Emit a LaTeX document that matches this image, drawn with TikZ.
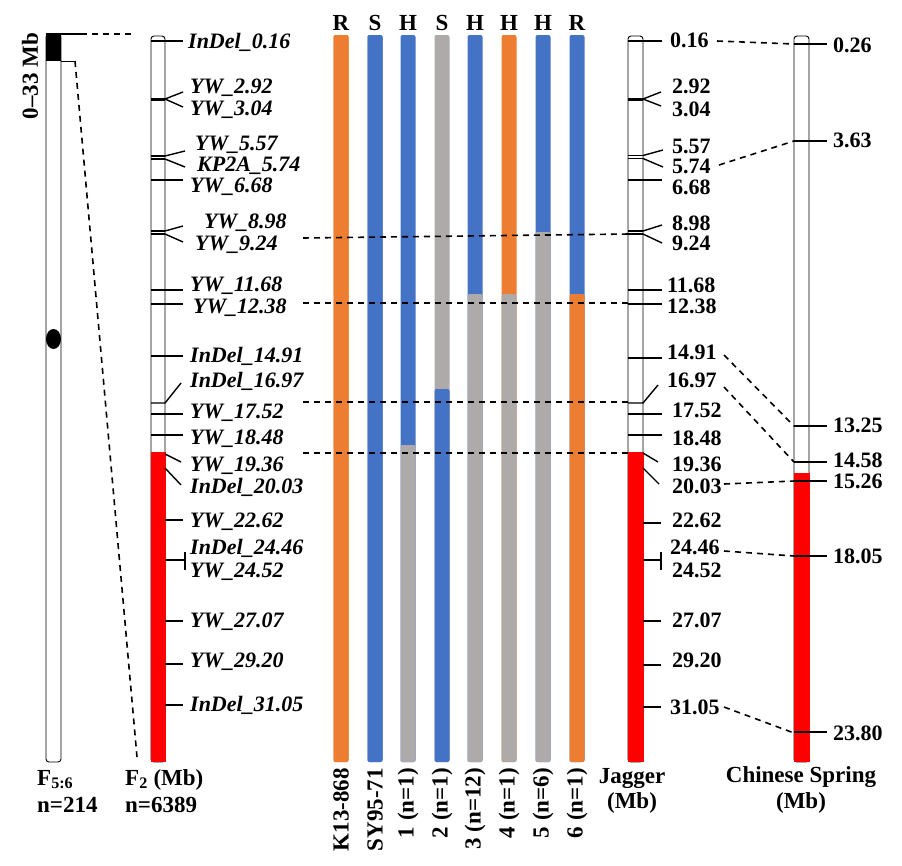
\documentclass[tikz,border=0pt]{standalone}
\usepackage{fontspec}
\setmainfont{Liberation Serif}
\definecolor{corange}{HTML}{ED7D31}
\definecolor{cblue}{HTML}{4472C4}
\definecolor{cgrey}{HTML}{AEAAAA}
\definecolor{cred}{HTML}{FF0000}
\begin{document}
\begin{tikzpicture}[x=1pt,y=-1pt,
  every node/.style={inner sep=0pt},
  txt/.style={font=\fontsize{23}{27}\selectfont\bfseries},
  mk/.style={anchor=base west,font=\fontsize{22}{26}\selectfont\bfseries\itshape},
  num/.style={anchor=base west,font=\fontsize{22}{26}\selectfont\bfseries},
  vlab/.style={txt,rotate=90,anchor=east},
  toplab/.style={txt,anchor=base},
  tk/.style={line width=1.4pt},
  dsh/.style={dashed,dash pattern=on 6pt off 5pt,line width=1.6pt},
  chr/.style={draw=black,line width=0.9pt,fill=white,rounded corners=3pt},
  seg/.style={rounded corners=2pt},
]
\useasboundingbox (0,0) rectangle (902,865);

% ---------- F5:6 chromosome ----------
\draw[chr] (46,34) rectangle (61,762);
\fill[black] (46,34) rectangle (61,61);
\fill[black] (53.5,339) ellipse (7.5 and 10);
\coordinate (fa1) at (81,34);
\coordinate (fa2) at (135,34);
\coordinate (fb1) at (75,61);
\coordinate (fb2) at (137,757);
\draw[tk] (46,34) -- (fa1);
\draw[line width=0.9pt] (61,61) -- (fb1);
\draw[dsh] (fa1) -- (fa2);
\draw[dsh] (fb1) -- (fb2);
\node[txt,rotate=90] (range) at (30,76) {0--33 Mb};

% ---------- F2 chromosome ----------
\draw[chr] (151,36) rectangle (165,762);
\fill[cred] (150.5,452) rectangle (165.5,762);
% ticks
\draw[tk] (151,41) -- (183,41);
\draw[tk] (151,98.5) -- (165,98.5) (151,100) -- (165,100);
\draw[tk] (165,99) -- (183,92) (165,99) -- (183,107);
\draw[tk] (151,156) -- (165,156) (151,159) -- (165,159);
\draw[tk] (165,156) -- (185,151) (165,159) -- (185,167);
\draw[tk] (151,180) -- (183,180);
\draw[tk] (151,231) -- (165,231) (151,234) -- (165,234);
\draw[tk] (165,231) -- (183,226) (165,234) -- (183,242);
\draw[tk] (151,290) -- (183,290);
\draw[tk] (151,304) -- (183,304);
\draw[tk] (151,356) -- (183,356);
\draw[tk] (151,403) -- (165,403) -- (181,383);
\draw[tk] (151,414) -- (183,414);
\draw[tk] (151,435) -- (183,435);
\draw[tk] (165,454) -- (181,462);
\draw[tk] (165,468) -- (181,485);
\draw[tk] (165,520) -- (183,520);
\draw[tk] (165,560) -- (185,560) (185,552) -- (185,570);
\draw[tk] (165,621) -- (183,621);
\draw[tk] (165,664) -- (183,664);
\draw[tk] (165,705) -- (183,705);
% labels
\node[mk] (m1) at (188,48) {InDel\_0.16};
\node[mk] (m2) at (190,93) {YW\_2.92};
\node[mk] (m3) at (190,115) {YW\_3.04};
\node[mk] (m4) at (195,150) {YW\_5.57};
\node[mk] (m5) at (197,171) {KP2A\_5.74};
\node[mk] (m6) at (190,192) {YW\_6.68};
\node[mk] (m7) at (204,228) {YW\_8.98};
\node[mk] (m8) at (195,250) {YW\_9.24};
\node[mk] (m9) at (190,291) {YW\_11.68};
\node[mk] (m10) at (193,313) {YW\_12.38};
\node[mk] (m11) at (190,362) {InDel\_14.91};
\node[mk] (m12) at (190,387) {InDel\_16.97};
\node[mk] (m13) at (190,418) {YW\_17.52};
\node[mk] (m14) at (190,444) {YW\_18.48};
\node[mk] (m15) at (190,471) {YW\_19.36};
\node[mk] (m16) at (190,493) {InDel\_20.03};
\node[mk] (m17) at (190,527) {YW\_22.62};
\node[mk] (m18) at (190,554) {InDel\_24.46};
\node[mk] (m19) at (190,577) {YW\_24.52};
\node[mk] (m20) at (190,627) {YW\_27.07};
\node[mk] (m21) at (190,667) {YW\_29.20};
\node[mk] (m22) at (190,711) {InDel\_31.05};

% ---------- genotype bars ----------
\foreach \x/\a/\b/\t in {341/corange/corange/35, 375/cblue/cblue/35,
    408/cblue/cgrey/445, 442/cgrey/cblue/389, 475/cblue/cgrey/294,
    509/corange/cgrey/294, 543/cblue/cgrey/232, 577/cblue/corange/294}{
  \fill[\a,seg] (\x-7.5,35) rectangle (\x+7.5,762);
  \fill[\b,seg] (\x-7.5,\t) rectangle (\x+7.5,762);
}
\node[toplab] (t1) at (341,30) {R};
\node[toplab] (t2) at (375,30) {S};
\node[toplab] (t3) at (408,30) {H};
\node[toplab] (t4) at (442,30) {S};
\node[toplab] (t5) at (475,30) {H};
\node[toplab] (t6) at (509,30) {H};
\node[toplab] (t7) at (543,30) {H};
\node[toplab] (t8) at (577,30) {R};
\node[vlab] (b1) at (341,768) {K13-868};
\node[vlab] (b2) at (375,768) {SY95-71};
\node[vlab] (b3) at (408,768) {1 (n=1)};
\node[vlab] (b4) at (442,768) {2 (n=1)};
\node[vlab] (b5) at (475,768) {3 (n=12)};
\node[vlab] (b6) at (509,768) {4 (n=1)};
\node[vlab] (b7) at (543,768) {5 (n=6)};
\node[vlab] (b8) at (577,768) {6 (n=1)};

% ---------- Jagger chromosome ----------
\draw[chr] (628,36) rectangle (643,762);
\fill[cred] (627.5,452) rectangle (643.5,762);
\draw[tk] (628,41) -- (662,41);
\draw[tk] (628,98.5) -- (643,98.5) (628,100) -- (643,100);
\draw[tk] (643,99) -- (661,92) (643,99) -- (661,106);
\draw[tk] (628,155.5) -- (643,155.5) (628,158.5) -- (643,158.5);
\draw[tk] (643,155.5) -- (663,150) (643,158.5) -- (663,167);
\draw[tk] (628,180) -- (662,180);
\draw[tk] (628,231) -- (643,231) (628,234) -- (643,234);
\draw[tk] (643,231) -- (662,225) (643,234) -- (662,243);
\draw[tk] (628,290) -- (662,290);
\draw[tk] (628,304) -- (662,304);
\draw[tk] (628,358) -- (662,358);
\draw[tk] (628,403) -- (643,403) -- (658,385);
\draw[tk] (628,414) -- (662,414);
\draw[tk] (628,435) -- (662,435);
\draw[tk] (643,453) -- (658,462);
\draw[tk] (643,468) -- (659,484);
\draw[tk] (643,523) -- (661,523);
\draw[tk] (643,560) -- (661,560) (661,552) -- (661,570);
\draw[tk] (643,621) -- (661,621);
\draw[tk] (643,665) -- (661,665);
\draw[tk] (643,707) -- (661,707);
\node[num] (j1) at (670,47) {0.16};
\node[num] (j2) at (672,93) {2.92};
\node[num] (j3) at (672,116) {3.04};
\node[num] (j4) at (672,153) {5.57};
\node[num] (j5) at (672,173) {5.74};
\node[num] (j6) at (672,194) {6.68};
\node[num] (j7) at (672,230) {8.98};
\node[num] (j8) at (672,250) {9.24};
\node[num] (j9) at (667,292) {11.68};
\node[num] (j10) at (667,313) {12.38};
\node[num] (j11) at (667,359) {14.91};
\node[num] (j12) at (667,387) {16.97};
\node[num] (j13) at (672,417) {17.52};
\node[num] (j14) at (672,445) {18.48};
\node[num] (j15) at (672,471) {19.36};
\node[num] (j16) at (672,493) {20.03};
\node[num] (j17) at (672,527) {22.62};
\node[num] (j18) at (670,554) {24.46};
\node[num] (j19) at (672,577) {24.52};
\node[num] (j20) at (672,627) {27.07};
\node[num] (j21) at (672,667) {29.20};
\node[num] (j22) at (670,714) {31.05};

% ---------- Chinese Spring chromosome ----------
\draw[chr] (794,36) rectangle (809,762);
\fill[cred] (793.5,473) rectangle (809.5,762);
\foreach \y in {44,141,426,462,481,556,732}{\draw[tk] (794,\y) -- (827,\y);}
\node[num] (c1) at (833,52) {0.26};
\node[num] (c2) at (833,147) {3.63};
\node[num] (c3) at (833,432) {13.25};
\node[num] (c4) at (833,467) {14.58};
\node[num] (c5) at (833,488) {15.26};
\node[num] (c6) at (833,563) {18.05};
\node[num] (c7) at (833,740) {23.80};

% ---------- dashed connectors ----------
\coordinate (h1a) at (303,238); \coordinate (h1b) at (629,234);
\coordinate (h2a) at (303,303); \coordinate (h2b) at (629,303);
\coordinate (h3a) at (303,402); \coordinate (h3b) at (629,402);
\coordinate (h4a) at (303,453); \coordinate (h4b) at (629,453);
\draw[dsh] (h1a) -- (h1b);
\draw[dsh] (h2a) -- (h2b);
\draw[dsh] (h3a) -- (h3b);
\draw[dsh] (h4a) -- (h4b);

\coordinate (ja) at (717,41);  \coordinate (ca) at (794,44);
\coordinate (jb) at (719,165); \coordinate (cb) at (794,141);
\coordinate (jc) at (724,355); \coordinate (cc) at (794,426);
\coordinate (jd) at (724,387); \coordinate (cd) at (794,462);
\coordinate (je) at (724,484); \coordinate (ce) at (794,481);
\coordinate (jf) at (724,551); \coordinate (cf) at (794,556);
\coordinate (jg) at (724,707); \coordinate (cg) at (794,733);
\draw[dsh] (ja) -- (ca);
\draw[dsh] (jb) -- (cb);
\draw[dsh] (jc) -- (cc);
\draw[dsh] (jd) -- (cd);
\draw[dsh] (je) -- (ce);
\draw[dsh] (jf) -- (cf);
\draw[dsh] (jg) -- (cg);

% ---------- bottom labels ----------
\node[txt,anchor=base west] (f56) at (37,785) {F\textsubscript{5:6}};
\node[txt,anchor=base west] (n214) at (37,812) {n=214};
\node[txt,anchor=base west] (f2) at (125,785) {F\textsubscript{2} (Mb)};
\node[txt,anchor=base west] (n6389) at (125,812) {n=6389};
\node[txt,anchor=base] (jag) at (632,783) {Jagger};
\node[txt,anchor=base] (jagmb) at (632,808) {(Mb)};
\node[txt,anchor=base] (cs) at (801,782) {Chinese Spring};
\node[txt,anchor=base] (csmb) at (801,808) {(Mb)};
\end{tikzpicture}
\end{document}
